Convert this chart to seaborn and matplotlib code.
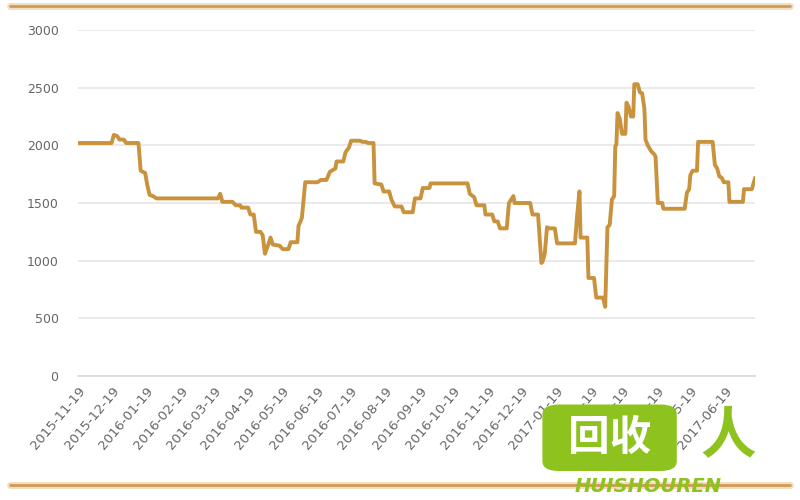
import numpy as np
import pandas as pd
import seaborn as sns
import matplotlib.pyplot as plt
from matplotlib.lines import Line2D
from matplotlib.patches import FancyBboxPatch

# Price series: days after 2015-11-19 and the value on that day
start_date = "2015-11-19"
day_offset = [0, 30, 32, 35, 37, 41, 43, 54, 56, 60, 62, 63, 64, 67, 70,
              125, 127, 129, 138, 141, 145, 146, 152, 154, 157, 159, 163, 165, 167, 170,
              172, 174, 180, 183, 188, 190, 196, 197, 200, 203, 214, 217, 222, 225, 230,
              231, 237, 239, 242, 244, 252, 254, 257, 259, 264, 265, 271, 273, 278, 280,
              283, 289, 291, 299, 301, 306, 308, 314, 315, 348, 350, 354, 356, 363, 364,
              370, 372, 375, 377, 383, 385, 389, 390, 404, 406, 411, 414, 415, 417, 419,
              421, 426, 428, 444, 446, 448, 449, 455, 456, 461, 463, 469, 471, 473, 475,
              477, 479, 480, 481, 482, 484, 486, 489, 490, 492, 494, 496, 497, 500, 502,
              504, 506, 507, 509, 512, 515, 516, 518, 522, 523, 542, 544, 546, 547, 549,
              553, 554, 567, 569, 571, 573, 575, 577, 581, 582, 594, 595, 602, 605]
price = [2020, 2020, 2090, 2080, 2050, 2050, 2020, 2020, 1780, 1760, 1650, 1610, 1570, 1560, 1540,
         1540, 1580, 1510, 1510, 1480, 1480, 1460, 1460, 1400, 1400, 1250, 1250, 1220, 1060, 1140,
         1200, 1140, 1130, 1100, 1100, 1160, 1160, 1300, 1370, 1680, 1680, 1700, 1700, 1770, 1800,
         1860, 1860, 1940, 1980, 2040, 2040, 2030, 2030, 2020, 2020, 1670, 1660, 1600, 1600, 1530,
         1470, 1470, 1420, 1420, 1540, 1540, 1630, 1630, 1670, 1670, 1580, 1550, 1480, 1480, 1400,
         1400, 1340, 1340, 1280, 1280, 1500, 1560, 1500, 1500, 1400, 1400, 980, 990, 1060, 1290,
         1280, 1280, 1150, 1150, 1400, 1600, 1200, 1200, 850, 850, 680, 680, 600, 1290,
         1310, 1530, 1560, 1990, 2010, 2280, 2230, 2100, 2100, 2370, 2330, 2250, 2250, 2530, 2530,
         2460, 2450, 2320, 2050, 2000, 1950, 1920, 1900, 1500, 1500, 1450, 1450, 1590, 1620, 1740,
         1780, 1780, 2030, 2030, 1830, 1800, 1730, 1720, 1680, 1680, 1510, 1510, 1620, 1620, 1720]

tick_labels = ["2015-11-19", "2015-12-19", "2016-01-19", "2016-02-19", "2016-03-19",
               "2016-04-19", "2016-05-19", "2016-06-19", "2016-07-19", "2016-08-19",
               "2016-09-19", "2016-10-19", "2016-11-19", "2016-12-19", "2017-01-19",
               "2017-02-19", "2017-03-19", "2017-04-19", "2017-05-19", "2017-06-19"]
y_ticks = [0, 500, 1000, 1500, 2000, 2500, 3000]

line_color = "#C9923C"
grid_color = "#E6E6E6"
text_color = "#666666"

df = pd.DataFrame({
    "date": pd.Timestamp(start_date) + pd.to_timedelta(day_offset, unit="D"),
    "price": price,
})

sns.set_style("white")
plt.rcParams['font.family'] = ['DejaVu Sans']

fig = plt.figure(figsize=(8, 5), dpi=100)
ax = fig.add_axes([0.0975, 0.248, 0.8465, 0.692])

sns.lineplot(data=df, x="date", y="price", ax=ax, color=line_color, linewidth=2.8)

# axes and grid
ax.set_ylim(0, 3000)
ax.set_yticks(y_ticks)
ax.yaxis.grid(True, color=grid_color, linewidth=1.2)
ax.set_axisbelow(True)
ax.set_xlim(df["date"].iloc[0], df["date"].iloc[-1])
tick_dates = pd.to_datetime(tick_labels)
ax.set_xticks(tick_dates)
ax.set_xticklabels(tick_labels, rotation=50, ha="right", rotation_mode="anchor")
ax.tick_params(axis="x", length=4, color="#D9D9D9", labelsize=9.5, labelcolor=text_color, pad=2)
ax.tick_params(axis="y", length=0, labelsize=9, labelcolor=text_color, pad=14)
ax.set_xlabel("")
ax.set_ylabel("")
for side in ["top", "right", "left"]:
    ax.spines[side].set_visible(False)
ax.spines["bottom"].set_color("#D9D9D9")
ax.spines["bottom"].set_linewidth(1.2)

# decorative bands top and bottom
for yy in [0.988, 0.03]:
    fig.add_artist(Line2D([0.012, 0.988], [yy, yy], transform=fig.transFigure,
                          color="#F1DFC4", linewidth=5))
    fig.add_artist(Line2D([0.012, 0.988], [yy, yy], transform=fig.transFigure,
                          color="#D29A52", linewidth=2))

# watermark
green = "#8DC21F"
fig.add_artist(FancyBboxPatch((0.682, 0.062), 0.16, 0.125, transform=fig.transFigure,
                              boxstyle="round,pad=0.004,rounding_size=0.02",
                              facecolor=green, edgecolor="none"))
fig.text(0.762, 0.125, "回收", transform=fig.transFigure, ha="center", va="center",
         fontsize=30, fontweight="bold", color="white", family=["Noto Sans CJK SC", "DejaVu Sans"])
fig.text(0.91, 0.125, "人", transform=fig.transFigure, ha="center", va="center",
         fontsize=40, fontweight="bold", color=green, family=["Noto Sans CJK SC", "DejaVu Sans"])
fig.text(0.81, 0.028, "HUISHOUREN", transform=fig.transFigure, ha="center", va="center",
         fontsize=14, fontweight="bold", style="italic", color=green)

fig.savefig("out.png", dpi=100)
